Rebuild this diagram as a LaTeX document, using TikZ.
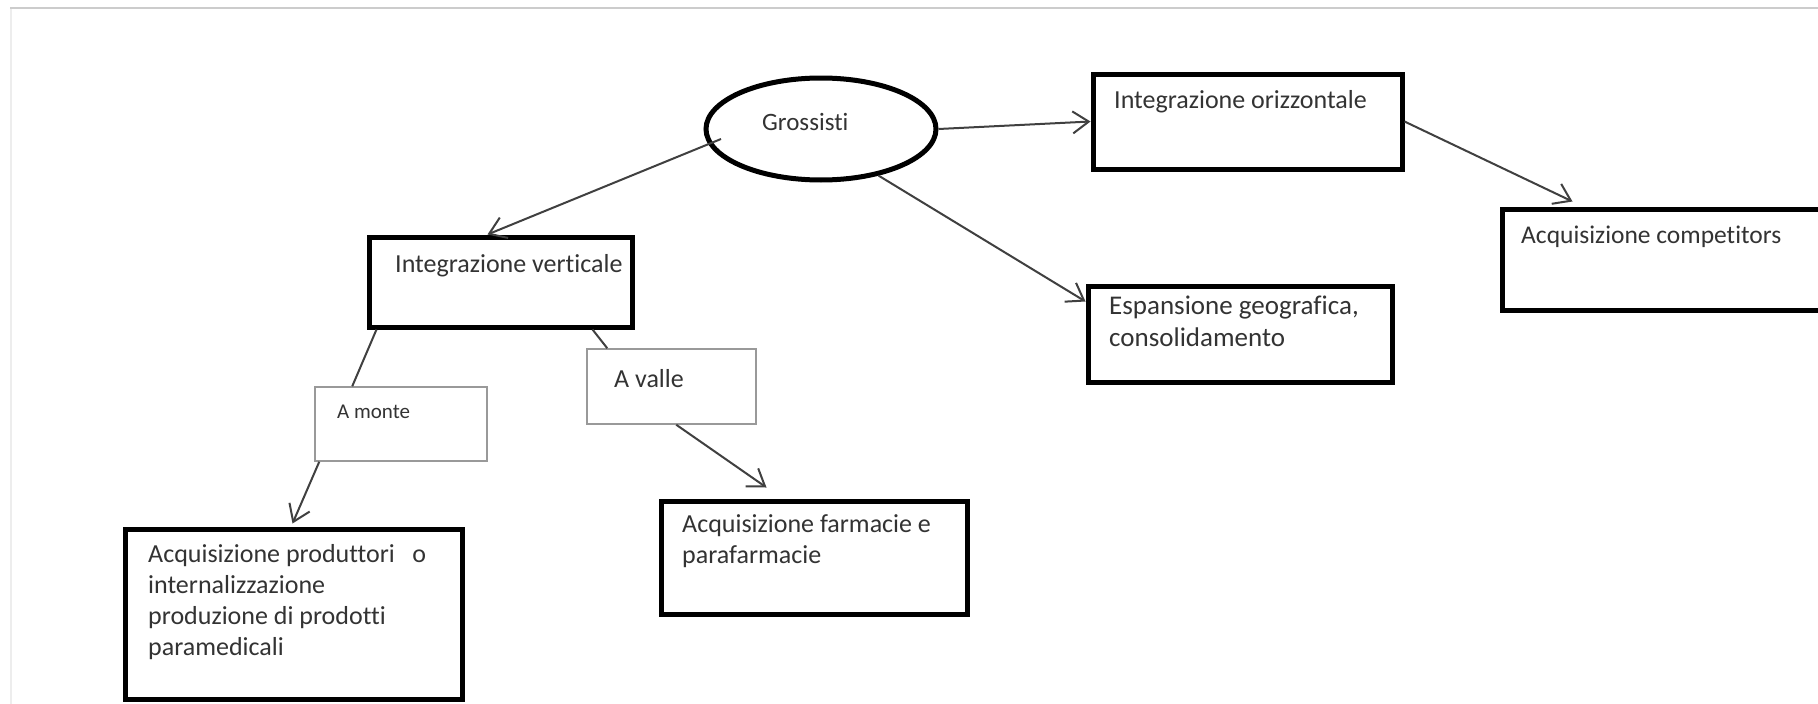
\documentclass[tikz,border=0pt]{standalone}
\usepackage{fontspec}
\setmainfont{Carlito}[Ligatures=NoCommon]
\usetikzlibrary{shapes.geometric,arrows.meta,calc}
\begin{document}
\begin{tikzpicture}[x=1pt,y=-1pt,
  bigbox/.style={draw=black, line width=5pt, rectangle, inner sep=0pt, fill=white},
  thinbox/.style={draw=black!40, line width=1.5pt, rectangle, inner sep=0pt, fill=white},
  txt/.style={anchor=base west, inner sep=0pt, text=black!80, font=\fontsize{26}{31}\selectfont, align=left},
  conn/.style={draw=black!75, line width=2pt},
  arr/.style={conn, -{Straight Barb[length=16pt,width=22pt,line width=2pt]}},
]
\useasboundingbox (0,0) rectangle (1818,704);
\fill[white] (0,0) rectangle (1818,704);
% frame of the page
\draw[black!20, line width=2pt] (10,7.5) -- (1818,7.5);
\draw[black!7, line width=2pt] (11,9) -- (11,704);

% nodes (multi-line texts are placed by the baseline of their last line)
\node[ellipse, draw=black, line width=5pt, minimum width=230pt, minimum height=102pt, inner sep=0pt] (gro) at (821,129) {};
\node[txt, font=\fontsize{25}{31}\selectfont] (grot) at (762,130) {Grossisti};

\node[bigbox, minimum width=309pt, minimum height=95pt] (orz) at (1247.5,121.5) {};
\node[txt] (orzt) at (1114,108) {Integrazione orizzontale};

\node[bigbox, minimum width=340pt, minimum height=101pt] (comp) at (1672,259.5) {};
\node[txt, font=\fontsize{25.5}{31}\selectfont] (compt) at (1521,243) {Acquisizione competitors};

\node[bigbox, minimum width=304pt, minimum height=96pt] (esp) at (1240,334) {};
\node[txt, font=\fontsize{27}{32}\selectfont] (espt) at (1109,346) {Espansione geografica,\\consolidamento};

\node[bigbox, minimum width=263pt, minimum height=90pt] (iv) at (500.5,282) {};
\node[txt] (ivt) at (395,272) {Integrazione verticale};

\node[thinbox, minimum width=172pt, minimum height=74pt] (am) at (401,424) {};
\node[txt, font=\fontsize{21}{26}\selectfont] (amt) at (337,418) {A monte};

\node[thinbox, minimum width=169pt, minimum height=75pt] (av) at (671.5,386.5) {};
\node[txt, font=\fontsize{26}{32}\selectfont] (avt) at (614,387) {A valle};

\node[bigbox, minimum width=337pt, minimum height=170pt] (prod) at (293.5,614) {};
\node[txt] (prodt) at (148,655) {Acquisizione produttori~~~o\\internalizzazione\\produzione di prodotti\\paramedicali};

\node[bigbox, minimum width=306pt, minimum height=113pt] (farm) at (814,557.5) {};
\node[txt] (farmt) at (682,563) {Acquisizione farmacie e\\parafarmacie};

% connectors
\draw[arr] (gro.east) -- (orz.west);
\draw[arr] (orz.east) -- ([xshift=73pt,yshift=5pt]comp.north west);
\draw[arr] ([xshift=-100pt,yshift=-10pt]gro.center) -- ([xshift=-13pt]iv.north);
\draw[arr] (gro.-39) -- ([yshift=-18pt]esp.north west);
\draw[conn] ([xshift=10pt]iv.south west) -- ([xshift=38pt]am.north west);
\draw[arr] ([xshift=5pt]am.south west) -- ([xshift=170pt,yshift=3pt]prod.north west);
\draw[conn] ([xshift=-42pt]iv.south east) -- ([xshift=21pt]av.north west);
\draw[arr] ([xshift=90pt]av.south west) -- ([xshift=108pt,yshift=11pt]farm.north west);
\end{tikzpicture}
\end{document}
